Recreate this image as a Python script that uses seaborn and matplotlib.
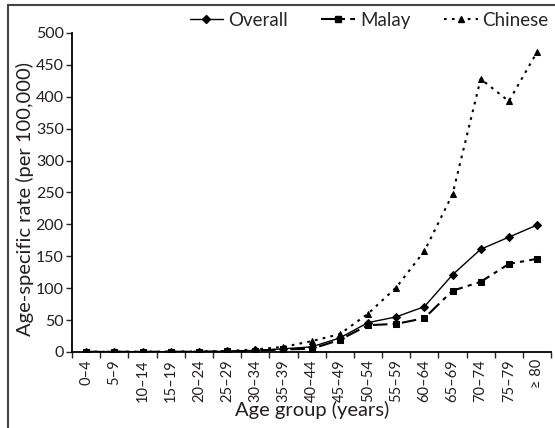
import numpy as np
import pandas as pd
import seaborn as sns
import matplotlib.pyplot as plt
from matplotlib.lines import Line2D
from matplotlib.ticker import FixedLocator

sns.set_theme(style='white')
plt.rcParams['font.family'] = ['Lato', 'DejaVu Sans']

age_groups = ['0\u20134', '5\u20139', '10\u201314', '15\u201319', '20\u201324', '25\u201329',
              '30\u201334', '35\u201339', '40\u201344', '45\u201349', '50\u201354', '55\u201359',
              '60\u201364', '65\u201369', '70\u201374', '75\u201379', '\u2265 80']
overall = [0.3, 0.3, 0.3, 0.4, 0.6, 1.0, 2.5, 5, 8, 22, 46, 55, 71, 121, 161, 180, 199]
malay = [0.3, 0.3, 0.3, 0.4, 0.5, 0.8, 2.0, 4, 5, 19, 42, 44, 53, 96, 110, 138, 146]
chinese = [0.4, 0.4, 0.4, 0.5, 0.8, 1.5, 4.0, 8, 17, 28, 60, 101, 158, 247, 428, 393, 470]

df = pd.DataFrame({'Age group': age_groups, 'Overall': overall,
                   'Malay': malay, 'Chinese': chinese})

fig = plt.figure(figsize=(5.55, 4.28), dpi=100)
ax = fig.add_axes([0.130, 0.1776, 0.863, 0.7454])

styles = {
    'Overall': dict(marker='D', markersize=4.5, linestyle='-', linewidth=1.0),
    'Malay': dict(marker='s', markersize=5, dashes=(7, 2.5, 2, 2.5), linewidth=1.5),
    'Chinese': dict(marker='^', markersize=5, dashes=(1.3, 2.5), linewidth=1.5),
}
handles = []
for name, st in styles.items():
    sns.lineplot(data=df, x='Age group', y=name, ax=ax, color='black',
                 markeredgecolor='black', sort=False, **st)
    handles.append(Line2D([], [], color='black', **st))

ax.set_xlim(-0.5, len(age_groups) - 0.5)
ax.set_ylim(0, 500)
ax.set_yticks(np.arange(0, 501, 50))
ax.set_xticks(range(len(age_groups)))
ax.set_xticklabels(age_groups, rotation=90, fontsize=10.5, color='#231f20')
ax.xaxis.set_minor_locator(FixedLocator(np.arange(-0.5, len(age_groups), 1)))
ax.tick_params(axis='x', which='major', length=0, pad=5)
ax.tick_params(axis='x', which='minor', bottom=True, length=4, width=1, direction='out')
ax.tick_params(axis='y', left=True, length=4, width=1, direction='out',
               labelsize=11.5, labelcolor='#231f20', pad=2)
ax.set_xlabel('Age group (years)', fontsize=14.5, color='#231f20')
ax.set_ylabel('Age-specific rate (per 100,000)', fontsize=14.5, color='#231f20')
ax.xaxis.set_label_coords(0.5, -0.152)
ax.yaxis.set_label_coords(-0.08, 0.48)

sns.despine(ax=ax)
for sp in ['left', 'bottom']:
    ax.spines[sp].set_color('black')
    ax.spines[sp].set_linewidth(1.3)

fig.legend(handles, list(styles.keys()), loc='center', ncol=3, frameon=False,
           bbox_to_anchor=(0.665, 0.953), fontsize=13.5, handlelength=1.8,
           columnspacing=1.8, handletextpad=0.25)

# partial frame round the figure (top and left)
fig.add_artist(Line2D([8 / 555, 1], [1 - 5 / 428, 1 - 5 / 428], color='#444444',
                      linewidth=1.5, transform=fig.transFigure))
fig.add_artist(Line2D([8 / 555, 8 / 555], [0, 1 - 5 / 428], color='#444444',
                      linewidth=1.5, transform=fig.transFigure))

fig.savefig('out.png', dpi=100)
